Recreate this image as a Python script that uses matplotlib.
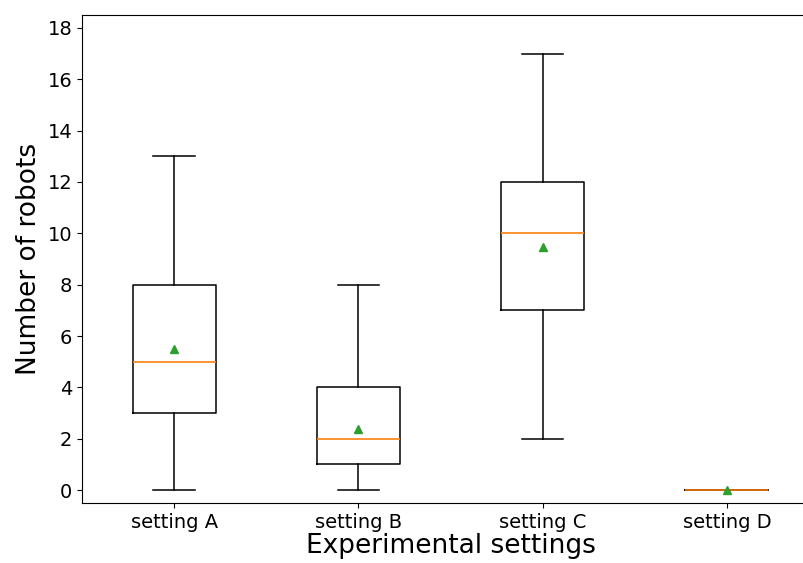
import numpy as np
import matplotlib
matplotlib.use("Agg")
import matplotlib.pyplot as plt

# box statistics per setting
settings = ["setting A", "setting B", "setting C", "setting D"]
q1 = [3, 1, 7, 0]
med = [5, 2, 10, 0]
q3 = [8, 4, 12, 0]
whislo = [0, 0, 2, 0]
whishi = [13, 8, 17, 0]
means = [5.5, 2.4, 9.45, 0]

stats = []
for i in range(len(settings)):
    stats.append(dict(label=settings[i], q1=q1[i], med=med[i], q3=q3[i],
                      whislo=whislo[i], whishi=whishi[i], mean=means[i], fliers=[]))

fig = plt.figure(figsize=(8.04, 5.63), dpi=100)
# axes runs past the right edge of the figure
ax = fig.add_axes([82/804, 60/563, 737/804, 488/563])
ax.bxp(stats, showmeans=True,
       boxprops=dict(linewidth=1.1), whiskerprops=dict(linewidth=1.1),
       capprops=dict(linewidth=1.1), medianprops=dict(linewidth=1.2))
ax.set_xlim(0.5, 4.5)
ax.set_ylim(-0.5, 18.5)
ax.set_yticks(np.arange(0, 19, 2))
ax.tick_params(labelsize=14)
ax.set_xlabel("Experimental settings", fontsize=19, labelpad=1)
ax.set_ylabel("Number of robots", fontsize=19)
plt.savefig("out.png", dpi=100)
